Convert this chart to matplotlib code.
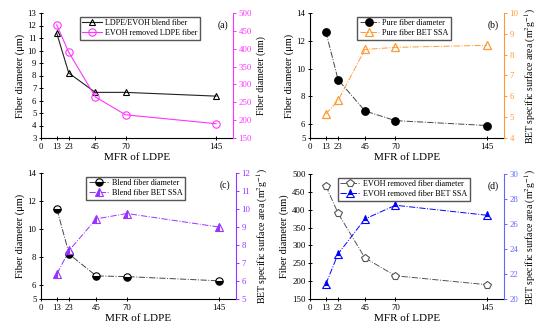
import matplotlib
matplotlib.use("Agg")
import matplotlib.pyplot as plt

plt.rcParams['font.family'] = ['Liberation Serif', 'DejaVu Serif']
plt.rcParams['mathtext.fontset'] = 'stix'

mfr = [13, 23, 45, 70, 145]
xticks = [0, 13, 23, 45, 70, 145]

# (a)
a_blend = [11.4, 8.2, 6.65, 6.65, 6.35]
a_evoh = [467, 390, 265, 215, 190]
# (b)
b_diam = [12.65, 9.2, 6.95, 6.25, 5.9]
b_bet = [5.15, 5.8, 8.25, 8.35, 8.45]
# (c)
c_diam = [11.4, 8.2, 6.65, 6.6, 6.3]
c_bet = [6.4, 7.7, 9.45, 9.75, 9.0]
# (d)
d_diam = [467, 390, 265, 215, 190]
d_bet = [21.2, 23.6, 26.4, 27.5, 26.7]

W, H = 554, 334
fig = plt.figure(figsize=(W/100, H/100), dpi=100)

def rect(l, t, r, b):
    return [l/W, 1-b/H, (r-l)/W, (b-t)/H]

FS = 6.3
MS = 4.8
bet_label = r'BET specific surface area (m$^2$g$^{-1}$)'

def setup(ax, ax2, rcolor, ylim, yticks, y2lim, y2ticks, ylabel, y2label, tag):
    ax.set_xlim(0, 159)
    ax.set_xticks(xticks)
    ax.set_ylim(*ylim)
    ax.set_yticks(yticks)
    ax2.set_ylim(*y2lim)
    ax2.set_yticks(y2ticks)
    ax.spines['top'].set_visible(False)
    ax2.spines['top'].set_visible(False)
    ax2.spines['left'].set_visible(False)
    ax2.spines['bottom'].set_visible(False)
    ax.spines['right'].set_visible(False)
    ax2.spines['right'].set_color(rcolor)
    for sp in ax.spines.values():
        sp.set_linewidth(0.8)
    ax2.spines['right'].set_linewidth(0.8)
    ax.tick_params(direction='inout', labelsize=FS, length=3.5, width=0.7, pad=1.5)
    ax2.tick_params(direction='out', labelsize=FS, length=2.5, width=0.7, colors=rcolor, pad=1.5)
    ax.set_xlabel('MFR of LDPE', fontsize=8, labelpad=2)
    ax.set_ylabel(ylabel, fontsize=7.5, labelpad=2)
    ax2.set_ylabel(y2label, fontsize=7, labelpad=3)
    ax.text(0.945, 0.9, tag, transform=ax.transAxes, fontsize=7, ha='center', va='center')

def leg(ax, handles, x0):
    ax.legend(handles=handles, loc='upper left', bbox_to_anchor=(x0, 0.99), fontsize=5.9,
              frameon=True, fancybox=False, edgecolor='#555555', framealpha=1,
              borderpad=0.3, labelspacing=0.25, handlelength=2.4, handletextpad=0.4,
              borderaxespad=0.3)

# (a)
ax = fig.add_axes(rect(41, 13, 233, 138))
ax2 = ax.twinx()
mag = '#ff33ff'
l1, = ax.plot(mfr, a_blend, '-', color='#222222', lw=0.8, marker='^', ms=MS,
              mfc='none', mec='black', mew=0.8, label='LDPE/EVOH blend fiber')
l2, = ax2.plot(mfr, a_evoh, '-', color=mag, lw=0.8, marker='o', ms=MS+0.5,
               mfc='none', mec=mag, mew=0.8, label='EVOH removed LDPE fiber')
setup(ax, ax2, mag, (3, 13), list(range(3, 14)), (150, 500), list(range(150, 501, 50)),
      'Fiber diameter (\u03bcm)', 'Fiber diameter (nm)', '(a)')
leg(ax2, [l1, l2], 0.19)

# (b)
ax = fig.add_axes(rect(310, 13, 504, 138))
ax2 = ax.twinx()
org = '#ff9933'
l1, = ax.plot(mfr, b_diam, linestyle='-.', color='#444444', lw=0.7, marker='o', ms=MS+0.5,
              mfc='black', mec='black', label='Pure fiber diameter')
l2, = ax2.plot(mfr, b_bet, linestyle='-.', color=org, lw=0.7, marker='^', ms=MS+0.5,
               mfc='none', mec=org, mew=0.9, label='Pure fiber BET SSA')
setup(ax, ax2, org, (5, 14), [5, 6, 8, 10, 12, 14], (4, 10), list(range(4, 11)),
      'Fiber diameter (\u03bcm)', bet_label, '(b)')
leg(ax2, [l1, l2], 0.23)

# (c)
ax = fig.add_axes(rect(41, 173, 236, 299))
ax2 = ax.twinx()
vio = '#9933ff'
l1, = ax.plot(mfr, c_diam, linestyle='-.', color='#444444', lw=0.7, marker='o', ms=MS+0.5,
              fillstyle='bottom', mfc='black', mfcalt='white', mec='black', mew=0.8,
              label='Blend fiber diameter')
l2, = ax2.plot(mfr, c_bet, linestyle='-.', color=vio, lw=0.7, marker='^', ms=MS+0.5,
               fillstyle='left', mfc=vio, mfcalt='white', mec=vio, mew=0.8,
               label='Blend fiber BET SSA')
setup(ax, ax2, vio, (5, 14), [5, 6, 8, 10, 12, 14], (5, 12), list(range(5, 13)),
      'Fiber diameter (\u03bcm)', bet_label, '(c)')
leg(ax2, [l1, l2], 0.22)

# (d)
ax = fig.add_axes(rect(310, 174, 504, 299))
ax2 = ax.twinx()
blu = '#0000ff'
l1, = ax.plot(mfr, d_diam, linestyle='-.', color='#555555', lw=0.7, marker='p', ms=MS+1,
              mfc='white', mec='#555555', mew=0.8, label='EVOH removed fiber diameter')
l2, = ax2.plot(mfr, d_bet, linestyle='-.', color=blu, lw=0.7, marker='^', ms=MS+0.5,
               fillstyle='top', mfc=blu, mfcalt='white', mec=blu, mew=0.8,
               label='EVOH removed fiber BET SSA')
setup(ax, ax2, '#6666ff', (150, 500), list(range(150, 501, 50)), (20, 30), list(range(20, 31, 2)),
      'Fiber diameter (nm)', bet_label, '(d)')
leg(ax2, [l1, l2], 0.13)

fig.savefig('out.png', dpi=100)
